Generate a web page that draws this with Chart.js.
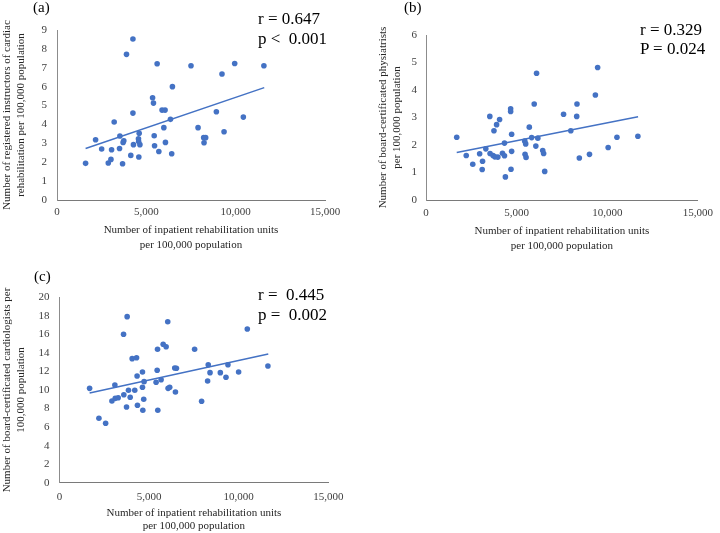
<!DOCTYPE html>
<html><head><meta charset="utf-8">
<script src="https://cdn.jsdelivr.net/npm/chart.js@4.4.1/dist/chart.umd.min.js"></script>
<style>
html,body{margin:0;padding:0;background:#fff;overflow:hidden;width:720px;height:533px}
.box{position:absolute}
.lbl{position:absolute;font-family:'Liberation Serif','Times New Roman',serif;color:#000;white-space:pre}
</style></head><body>
<div class="box" style="left:0;top:0;width:360px;height:260px"><canvas id="ca"></canvas></div>
<div class="box" style="left:360px;top:0;width:360px;height:260px"><canvas id="cb"></canvas></div>
<div class="box" style="left:0;top:260px;width:360px;height:273px"><canvas id="cc"></canvas></div>
<div class="lbl" style="left:33px;top:0px;font-size:15px;line-height:15px">(a)</div>
<div class="lbl" style="left:404px;top:0px;font-size:15px;line-height:15px">(b)</div>
<div class="lbl" style="left:34px;top:269px;font-size:15px;line-height:15px">(c)</div>
<div class="lbl" id="statA" style="left:258px;top:8.6px;font-size:17px;line-height:20.5px"></div>
<div class="lbl" id="statB" style="left:640px;top:20.3px;font-size:17px;line-height:19px"></div>
<div class="lbl" id="statC" style="left:258px;top:284.8px;font-size:17px;line-height:20px"></div>
<script>
// ---- data ----
const xTicks = [0, 5000, 10000, 15000];
const xTitle = ["Number of inpatient rehabilitation units", "per 100,000 population"];

// (a) registered instructors of cardiac rehabilitation
const aX = [1600,2160,2500,3055,2870,3020,3200,3520,3500,3670,3740,3700,3890,4130,4250,4250,4280,4600,4560,4570,4640,4580,5350,5400,5440,5460,5605,5700,5880,6050,5980,6070,6350,6420,6460,7500,7895,8210,8320,8230,8920,9235,9350,9945,10430,11580];
const aY = [1.94,3.19,2.70,2.66,1.96,2.15,4.13,3.39,2.73,1.92,3.14,3.05,7.71,2.36,8.52,4.60,2.93,3.53,3.24,3.10,2.93,2.28,5.41,5.13,3.40,2.87,7.21,2.57,4.76,4.76,3.83,3.05,4.27,2.45,6.00,7.11,3.83,3.30,3.30,3.03,4.67,6.67,3.61,7.23,4.39,7.11];
const aTrendX = [1600, 11600];
const aTrendY = [2.73, 5.95];
const aTitleY = ["Number of registered instructors of cardiac", "rehabilitation per 100,000 population"];
const aStats = ["r = 0.647", "p <  0.001"];

// (b) board-certificated physiatrists
const bX = [1695,2220,2580,2960,3120,3100,3300,3520,3535,3700,3800,3965,3750,3895,4060,4220,4330,4330,4380,4670,4670,4725,4725,4690,5450,5500,5465,5520,5700,5830,5970,6100,6060,6170,6440,6490,6550,7590,7990,8330,8315,8460,9020,9345,9470,10050,10535,11690];
const bY = [2.28,1.62,1.30,1.68,1.41,1.11,1.86,3.04,1.69,1.62,1.57,1.56,2.52,2.74,2.93,1.70,2.07,1.61,0.84,3.32,3.22,2.39,1.77,1.12,2.14,2.04,1.66,1.55,2.65,2.27,3.49,4.61,1.96,2.25,1.80,1.69,1.04,3.12,2.52,3.49,3.04,1.53,1.66,3.82,4.82,1.91,2.28,2.32];
const bTrendX = [1695, 11700];
const bTrendY = [1.73, 3.03];
const bTitleY = ["Number of board-certificated physiatrists", "per 100,000 population"];
const bStats = ["r = 0.329", "P = 0.024"];

// (c) board-certificated cardiologists
const cX = [1680,2200,2575,2925,3090,3110,3275,3575,3590,3740,3775,3850,3945,4055,4300,4200,4330,4350,4630,4630,4720,4700,4650,5390,5450,5470,5485,5670,5785,5950,6040,6060,6150,6430,6525,6470,7540,7930,8265,8300,8400,8975,9290,9400,9995,10480,11630];
const cY = [10.18,6.95,6.41,8.81,10.54,9.10,9.17,16.01,9.49,8.17,17.91,9.97,9.21,13.38,13.48,9.97,11.51,8.35,11.94,10.29,10.90,9.00,7.81,10.83,12.13,14.39,7.81,11.11,14.93,14.67,17.37,10.18,10.29,12.37,12.34,9.78,14.39,8.78,10.97,12.73,11.87,11.87,11.37,12.73,11.94,16.58,12.59];
const cTrendX = [1680, 11650];
const cTrendY = [9.68, 13.88];
const cTitleY = ["Number of board-certificated cardiologists per", "100,000 population"];
const cStats = ["r =  0.445", "p =  0.002"];

// ---- chart ----
Chart.defaults.font.family = "'Liberation Serif','Times New Roman',serif";
Chart.defaults.font.size = 11;
const BLUE = '#4472C4';

function pts(xs, ys) { return xs.map((x, i) => ({x: x, y: ys[i]})); }

function makeChart(id, xs, ys, tx, ty, yMax, yStep, yTitle, g) {
  new Chart(document.getElementById(id), {
    type: 'scatter',
    data: {
      datasets: [
        {type: 'scatter', data: pts(xs, ys), backgroundColor: BLUE, borderWidth: 0, pointRadius: 2.8, pointHoverRadius: 2.8},
        {type: 'line', data: pts(tx, ty), borderColor: BLUE, borderWidth: 1.5, pointRadius: 0, fill: false, tension: 0}
      ]
    },
    options: {
      responsive: true, maintainAspectRatio: false, animation: false,
      layout: {padding: {left: 0, top: g.padTop, right: g.padRight, bottom: 0}},
      plugins: {legend: {display: false}, tooltip: {enabled: false}},
      events: [],
      scales: {
        x: {
          type: 'linear', min: 0, max: 15000,
          afterBuildTicks: s => { s.ticks = xTicks.map(v => ({value: v})); },
          afterFit: s => { s.height = g.xHeight; },
          grid: {display: false, drawTicks: false},
          border: {display: true, color: '#7a7a7a', width: 1},
          ticks: {padding: g.xTickPad, color: '#404040', maxRotation: 0, autoSkip: false,
                  callback: v => Number(v).toLocaleString('en-US')},
          title: {display: true, text: xTitle, color: '#262626', font: {size: 11, lineHeight: g.xLH},
                  padding: {top: 0, bottom: g.xTitlePad}}
        },
        y: {
          type: 'linear', min: 0, max: yMax,
          afterFit: s => { s.width = g.yWidth; },
          grid: {display: false, drawTicks: false},
          border: {display: true, color: '#8c8c8c', width: 1},
          ticks: {stepSize: yStep, padding: g.yTickPad, color: '#404040'},
          title: {display: true, text: yTitle, color: '#262626', font: {size: 11, lineHeight: g.yLH},
                  padding: {top: g.yTitlePad, bottom: 0}}
        }
      }
    }
  });
}

makeChart('ca', aX, aY, aTrendX, aTrendY, 9, 1, aTitleY,
  {padTop: 30, padRight: 35, xHeight: 60, yWidth: 57, xTickPad: 6, yTickPad: 10, xLH: 1.34, xTitlePad: 7.3, yLH: 1.27, yTitlePad: 0});
makeChart('cb', bX, bY, bTrendX, bTrendY, 6, 1, bTitleY,
  {padTop: 35, padRight: 16.7, xHeight: 60, yWidth: 66, xTickPad: 7, yTickPad: 9, xLH: 1.34, xTitlePad: 6.6, yLH: 1.27, yTitlePad: 16});
makeChart('cc', cX, cY, cTrendX, cTrendY, 20, 2, cTitleY,
  {padTop: 37.3, padRight: 31.7, xHeight: 50.3, yWidth: 59.5, xTickPad: 8, yTickPad: 10, xLH: 1.21, xTitlePad: 0, yLH: 1.27, yTitlePad: 0});

document.getElementById('statA').textContent = aStats.join('\n');
document.getElementById('statB').textContent = bStats.join('\n');
document.getElementById('statC').textContent = cStats.join('\n');
</script>
</body></html>
